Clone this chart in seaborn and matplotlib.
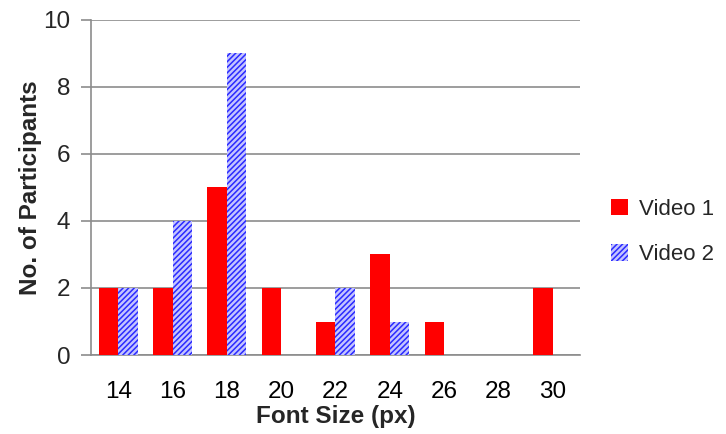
import matplotlib
matplotlib.use("Agg")
import matplotlib.pyplot as plt
import seaborn as sns
import pandas as pd
import numpy as np
from matplotlib.patches import Patch

font_sizes = ["14", "16", "18", "20", "22", "24", "26", "28", "30"]
video1 = [2, 2, 5, 2, 1, 3, 1, 0, 2]
video2 = [2, 4, 9, 0, 2, 1, 0, 0, 0]
series = ["Video 1", "Video 2"]

df = pd.DataFrame({
    "size": font_sizes * 2,
    "count": video1 + video2,
    "video": [series[0]] * len(font_sizes) + [series[1]] * len(font_sizes),
})

sns.set_theme(style="white")
plt.rcParams["font.family"] = ["Liberation Sans", "DejaVu Sans"]
plt.rcParams["hatch.linewidth"] = 1.1

RED = "#ff0000"
BLUE_BG = "#c4c4ff"
BLUE = "#2a2aff"

fig = plt.figure(figsize=(7.26, 4.34), dpi=100)
ax = fig.add_axes([91 / 726, 1 - 355 / 434, (580 - 91) / 726, (355 - 20) / 434])

sns.barplot(data=df, x="size", y="count", hue="video", order=font_sizes,
            hue_order=series, palette=[RED, "#ffffff"], width=0.72,
            gap=0, saturation=1, legend=False, ax=ax, zorder=3)

# second series: blue diagonal hatching
for patch in ax.containers[1]:
    patch.set_facecolor(BLUE_BG)
    patch.set_edgecolor(BLUE)
    patch.set_hatch("//////")
    patch.set_linewidth(0)
for patch in ax.containers[0]:
    patch.set_edgecolor("none")

ax.set_ylim(0, 10)
ax.set_xlim(-0.5, len(font_sizes) - 0.5)
ax.set_yticks(range(0, 11, 2))
ax.yaxis.grid(True, color="#8c8c8c", linewidth=1.2, zorder=0)
ax.set_axisbelow(True)

for s in ["top", "right"]:
    ax.spines[s].set_visible(False)
for s in ["left", "bottom"]:
    ax.spines[s].set_color("#8c8c8c")
    ax.spines[s].set_linewidth(1.2)

# ticks at the category boundaries on x
ax.set_xticks(np.arange(len(font_sizes)))
ax.set_xticklabels(font_sizes)
ax.set_xticks(np.arange(-0.5, len(font_sizes) + 0.5, 1), minor=True)
ax.tick_params(axis="x", which="major", length=0, labelsize=17.5, pad=19, colors="black")
ax.tick_params(axis="x", which="minor", length=7, width=1.2, color="#8c8c8c", direction="out")
ax.tick_params(axis="y", length=7, width=1.2, color="#8c8c8c", direction="out",
               labelsize=17.5, pad=8, left=True)

ax.set_xlabel("Font Size (px)", fontsize=17.5, fontweight="bold", labelpad=1)
ax.set_ylabel("No. of Participants", fontsize=17.5, fontweight="bold", labelpad=1)

handles = [
    Patch(facecolor=RED, edgecolor="none", label=series[0]),
    Patch(facecolor=BLUE_BG, edgecolor=BLUE, hatch="//////", linewidth=0, label=series[1]),
]
fig.legend(handles=handles, loc="center left", bbox_to_anchor=(611 / 726, 1 - 232 / 434),
           frameon=False, fontsize=16, handlelength=0.75, handleheight=0.75,
           handletextpad=0.5, labelspacing=1.1, borderpad=0, borderaxespad=0)

fig.savefig("out.png", dpi=100)
